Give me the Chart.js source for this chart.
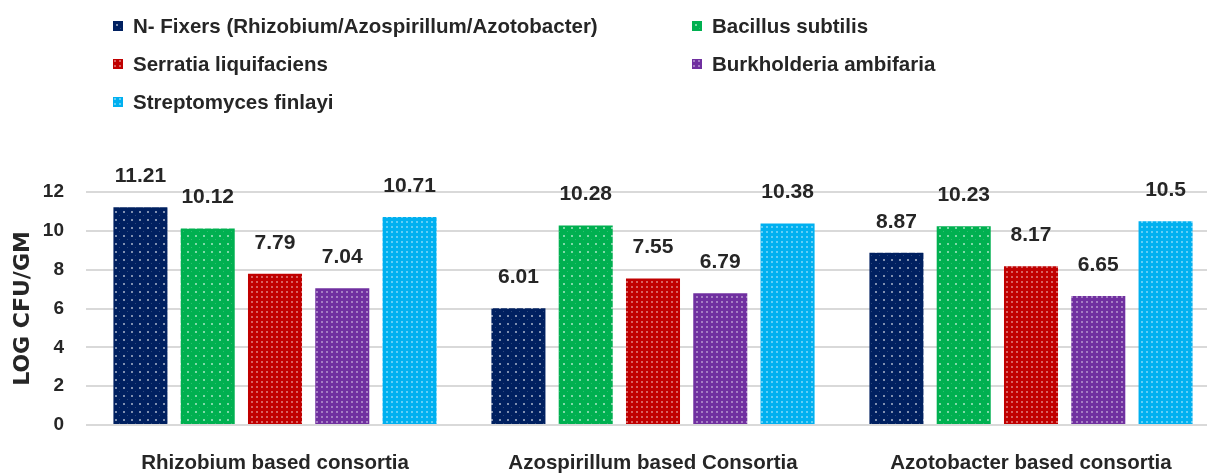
<!DOCTYPE html>
<html>
<head>
<meta charset="utf-8">
<script src="https://cdn.jsdelivr.net/npm/chart.js@4/dist/chart.umd.min.js"></script>
<style>
  html, body { margin: 0; padding: 0; background: #fff; overflow: hidden; }
  #wrap { position: relative; width: 1225px; height: 476px; }
  #legend { position: absolute; left: 0; top: 7px; width: 1207px; font: bold 20.5px "Liberation Sans", Arial, sans-serif; color: #262626; }
  .lg-item { position: absolute; height: 38px; line-height: 38px; white-space: nowrap; }
  .lg-box { position: absolute; left: 0; top: 14px; width: 10px; height: 10px; }
  .lg-text { position: absolute; left: 20px; top: 0; }
</style>
</head>
<body>
<div id="wrap">
  <canvas id="chart"></canvas>
  <div id="legend"></div>
</div>
<script>
(function() {
"use strict";

// ── Data ──
var categories = ["Rhizobium based consortia", "Azospirillum based Consortia", "Azotobacter based consortia"];
var seriesNames = [
  "N- Fixers (Rhizobium/Azospirillum/Azotobacter)",
  "Bacillus subtilis",
  "Serratia liquifaciens",
  "Burkholderia ambifaria",
  "Streptomyces finlayi"
];
var nFixers      = [11.21, 6.01, 8.87];
var bacillus     = [10.12, 10.28, 10.23];
var serratia     = [7.79, 7.55, 8.17];
var burkholderia = [7.04, 6.79, 6.65];
var streptomyces = [10.71, 10.38, 10.5];
var yMin = 0, yMax = 12, yStep = 2;

var _COLORS = ["#002060", "#00b050", "#c00000", "#7030a0", "#00b0f0"];
var _FONT = '"Liberation Sans", Arial, sans-serif';

// dotted fill, like the office pattern fills
function _dots(color, size, dense) {
  var c = document.createElement("canvas");
  c.width = c.height = size;
  var g = c.getContext("2d");
  g.fillStyle = color;
  g.fillRect(0, 0, size, size);
  if (dense) {
    g.fillStyle = "rgba(255,255,255,0.38)";
    g.fillRect(1, 1, 2, 2);
  } else {
    g.fillStyle = "rgba(255,255,255,0.5)";
    g.fillRect(3, 3, 2, 2);
    g.fillStyle = "rgba(255,255,255,0.18)";
    g.fillRect(7, 7, 1, 1);
  }
  return c;
}
var tiles = [
  _dots(_COLORS[0], 8, false),
  _dots(_COLORS[1], 8, false),
  _dots(_COLORS[2], 5, true),
  _dots(_COLORS[3], 5, true),
  _dots(_COLORS[4], 5, true)
];

var ctx = document.getElementById("chart").getContext("2d");
var patterns = tiles.map(function(t) { return ctx.createPattern(t, "repeat"); });

// ── Legend (two columns, row-major) ──
var legendEl = document.getElementById("legend");
var colX = [113, 692];
seriesNames.forEach(function(name, i) {
  var item = document.createElement("div");
  item.className = "lg-item";
  item.style.left = colX[i % 2] + "px";
  item.style.top = (Math.floor(i / 2) * 38) + "px";
  var box = document.createElement("span");
  box.className = "lg-box";
  box.style.backgroundColor = _COLORS[i];
  box.style.backgroundImage = "url(" + tiles[i].toDataURL() + ")";
  var txt = document.createElement("span");
  txt.className = "lg-text";
  txt.textContent = name;
  item.appendChild(box);
  item.appendChild(txt);
  legendEl.appendChild(item);
});

// ── Value labels above bars ──
var valueLabels = {
  id: "valueLabels",
  afterDatasetsDraw: function(chart) {
    var c = chart.ctx;
    c.save();
    c.font = "bold 21px " + _FONT;
    c.fillStyle = "#262626";
    c.textAlign = "center";
    c.textBaseline = "middle";
    chart.data.datasets.forEach(function(ds, i) {
      chart.getDatasetMeta(i).data.forEach(function(bar, j) {
        c.fillText(String(ds.data[j]), bar.x, bar.y - 31);
      });
    });
    c.restore();
  }
};

var seriesData = [nFixers, bacillus, serratia, burkholderia, streptomyces];

new Chart(ctx, {
  type: "bar",
  data: {
    labels: categories,
    datasets: seriesData.map(function(d, i) {
      return {
        label: seriesNames[i],
        data: d,
        backgroundColor: patterns[i],
        borderWidth: 0,
        categoryPercentage: 0.89,
        barPercentage: 0.803
      };
    })
  },
  options: {
    responsive: true,
    maintainAspectRatio: false,
    animation: false,
    layout: { padding: { top: 192, right: 5, left: 0, bottom: 0 } },
    plugins: {
      legend: { display: false },
      tooltip: { enabled: false }
    },
    scales: {
      x: {
        grid: { display: false },
        border: { display: false },
        ticks: { color: "#262626", padding: 18, maxRotation: 0, font: { family: _FONT, weight: "bold", size: 20.5 } },
        afterFit: function(s) { s.height = 51; }
      },
      y: {
        min: yMin,
        max: yMax,
        ticks: { stepSize: yStep, padding: 22, color: "#262626", font: { family: _FONT, weight: "bold", size: 19 } },
        grid: { color: "#d9d9d9", lineWidth: 2, drawTicks: false },
        border: { display: false },
        title: {
          display: true,
          text: "LOG CFU/GM",
          color: "#262626",
          font: { family: '"DejaVu Sans", sans-serif', weight: "bold", size: 22 },
          padding: { top: 10, bottom: 0 }
        },
        afterFit: function(s) { s.width = 86; }
      }
    }
  },
  plugins: [valueLabels]
});

})();
</script>
</body>
</html>
